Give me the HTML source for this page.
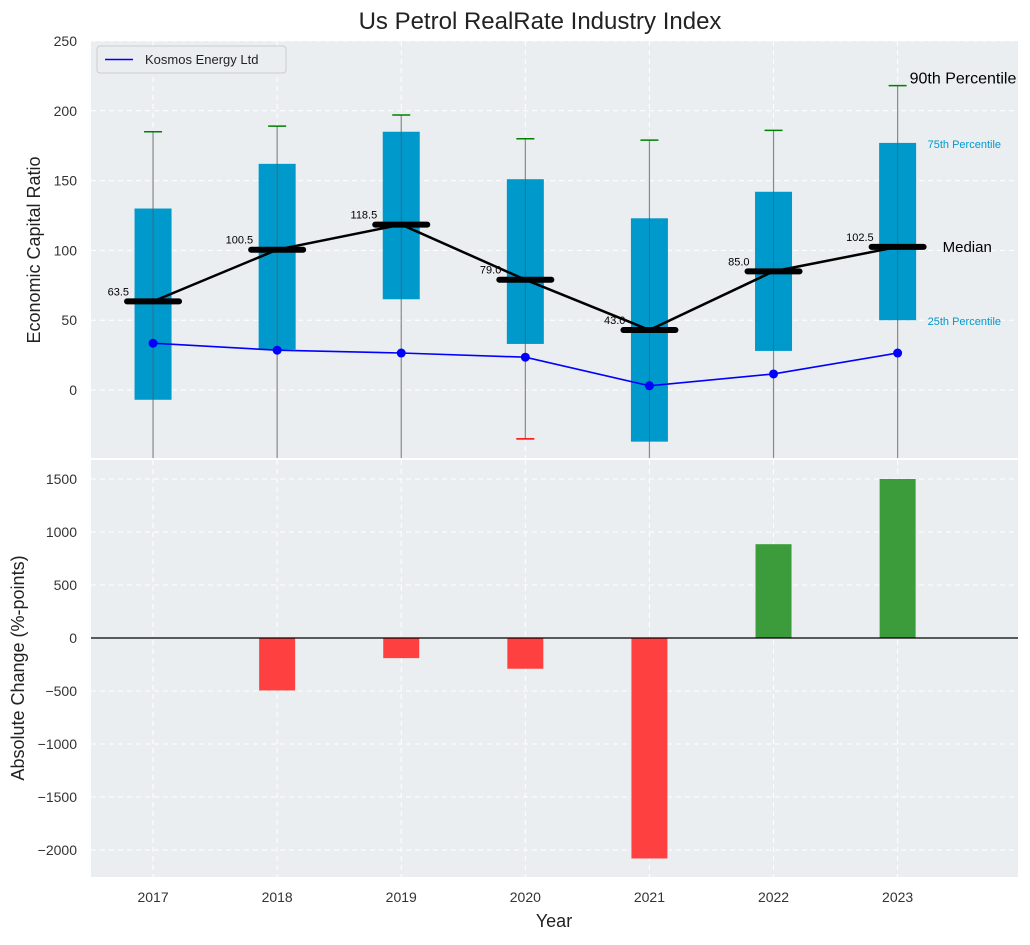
<!DOCTYPE html>
<html><head><meta charset="utf-8"><style>
body{margin:0;background:#fff;font-family:"Liberation Sans",sans-serif}
</style></head><body>
<svg id="c" width="1030" height="940" xmlns="http://www.w3.org/2000/svg"></svg>
<script>
const years=[2017,2018,2019,2020,2021,2022,2023];
const q25=[-7,29,65,33,-37,28,50];
const q75=[130,162,185,151,123,142,177];
const medians=[63.5,100.5,118.5,79.0,43.0,85.0,102.5];
const p90=[185,189,197,180,179,186,218];
const p10=[-60,-60,-60,-35,-60,-60,-60];
const kosmos=[33.5,28.5,26.5,23.5,3,11.5,26.5];
const changes=[0,-495,-190,-290,-2080,885,1500];
const topTicks=[0,50,100,150,200,250];
const botTicks=[-2000,-1500,-1000,-500,0,500,1000,1500];

const svg=document.getElementById('c');
const NS='http://www.w3.org/2000/svg';
function mk(t,a,p){const e=document.createElementNS(NS,t);for(const k in a)e.setAttribute(k,a[k]);(p||svg).appendChild(e);return e;}
const fmt=v=>v<0?'\u2212'+Math.abs(v):String(v);
const L=91,R=1018;
const x=i=>L+(i+0.5)*(R-L)/7.47;
const T0=41,T1=458,yT=v=>390-v*1.396;
const B0=460,B1=877,yB=v=>638-v*0.106;

let e=mk('rect',{x:L,y:T0,width:R-L,height:T1-T0,fill:'#eaeef0'});

e=mk('rect',{x:L,y:B0,width:R-L,height:B1-B0,fill:'#eaeef0'});

topTicks.forEach(v=>{mk('line',{x1:L,x2:R,y1:yT(v),y2:yT(v),stroke:'#fff','stroke-dasharray':'5,4'});
 const t=mk('text',{x:L-14,y:yT(v)+5,'text-anchor':'end','font-size':14,fill:'#333'});t.textContent=fmt(v);
 });
botTicks.forEach(v=>{mk('line',{x1:L,x2:R,y1:yB(v),y2:yB(v),stroke:'#fff','stroke-dasharray':'5,4'});
 const t=mk('text',{x:L-14,y:yB(v)+5,'text-anchor':'end','font-size':14,fill:'#333'});t.textContent=fmt(v);
 });
years.forEach((y,i)=>{mk('line',{x1:x(i),x2:x(i),y1:T0,y2:T1,stroke:'#fff','stroke-dasharray':'5,4'});
 mk('line',{x1:x(i),x2:x(i),y1:B0,y2:B1,stroke:'#fff','stroke-dasharray':'5,4'});
 const t=mk('text',{x:x(i),y:902,'text-anchor':'middle','font-size':14,fill:'#333'});t.textContent=y;
 });
mk('line',{x1:L+(7.5)*(R-L)/7.47,x2:L+(7.5)*(R-L)/7.47,y1:B0,y2:B1,stroke:'#fff','stroke-dasharray':'5,4'});

const g=mk('g',{'clip-path':'url(#ct)'});
const cp=mk('clipPath',{id:'ct'});mk('rect',{x:L,y:T0,width:R-L,height:T1-T0},cp);
years.forEach((y,i)=>{
 const cx=x(i);
 e=mk('line',{x1:cx,x2:cx,y1:yT(p90[i]),y2:yT(p10[i]),stroke:'#888','stroke-width':1.2},g);
 
 e=mk('rect',{x:cx-18.5,y:yT(q75[i]),width:37,height:yT(q25[i])-yT(q75[i]),fill:'#0099cc'},g);
 
 mk('line',{x1:cx,x2:cx,y1:yT(q75[i]),y2:yT(q25[i]),stroke:'#555','stroke-width':1,opacity:0.6},g);
 mk('line',{x1:cx-9,x2:cx+9,y1:yT(p90[i]),y2:yT(p90[i]),stroke:'green','stroke-width':1.5},g);
 if(p10[i]>-49) mk('line',{x1:cx-9,x2:cx+9,y1:yT(p10[i]),y2:yT(p10[i]),stroke:'red','stroke-width':1.5},g);
});
let pts=medians.map((m,i)=>x(i)+','+yT(m)).join(' ');
e=mk('polyline',{points:pts,fill:'none',stroke:'#000','stroke-width':2.5});

medians.forEach((m,i)=>{
 e=mk('line',{x1:x(i)-26,x2:x(i)+26,y1:yT(m),y2:yT(m),stroke:'#000','stroke-width':6,'stroke-linecap':'round'});
 
 const t=mk('text',{x:x(i)-24,y:yT(m)-6,'text-anchor':'end','font-size':11,fill:'#000'});t.textContent=m.toFixed(1);
 
});
pts=kosmos.map((k,i)=>x(i)+','+yT(k)).join(' ');
e=mk('polyline',{points:pts,fill:'none',stroke:'blue','stroke-width':1.6});

kosmos.forEach((k,i)=>{e=mk('circle',{cx:x(i),cy:yT(k),r:4.5,fill:'blue'});
 });
const li=6,lx=x(li);
[[p90[li],'90th Percentile',16,'#000',12],[q75[li],'75th Percentile',11,'#0099cc',30],[medians[li],'Median',15,'#000',45],[q25[li],'25th Percentile',11,'#0099cc',30]].forEach(a=>{
 const t=mk('text',{x:lx+a[4],y:yT(a[0])+(a[0]===p90[li]?-2:5),'font-size':a[2],fill:a[3]});t.textContent=a[1];
 });
e=mk('rect',{x:97,y:46,width:189,height:27,rx:3,fill:'#eaeef0',stroke:'#ccc'});

mk('line',{x1:105,x2:133,y1:59.5,y2:59.5,stroke:'blue','stroke-width':1.6});
e=mk('text',{x:145,y:64,'font-size':13,fill:'#222'});e.textContent='Kosmos Energy Ltd';


changes.forEach((c,i)=>{if(!c)return;
 const y0=yB(0),y1=yB(c);
 e=mk('rect',{x:x(i)-18,y:Math.min(y0,y1),width:36,height:Math.abs(y1-y0),fill:c<0?'#ff4040':'#3c9c3c'});
 });
mk('line',{x1:L,x2:R,y1:yB(0),y2:yB(0),stroke:'#000','stroke-width':1.2});

e=mk('text',{x:540,y:29,'text-anchor':'middle','font-size':24,fill:'#222'});e.textContent='Us Petrol RealRate Industry Index';

e=mk('text',{x:0,y:0,'text-anchor':'middle','font-size':18,fill:'#222',transform:'translate(40,250) rotate(-90)'});e.textContent='Economic Capital Ratio';

e=mk('text',{x:0,y:0,'text-anchor':'middle','font-size':18,fill:'#222',transform:'translate(24,668) rotate(-90)'});e.textContent='Absolute Change (%-points)';

e=mk('text',{x:554,y:927,'text-anchor':'middle','font-size':18,fill:'#222'});e.textContent='Year';

</script></body></html>
